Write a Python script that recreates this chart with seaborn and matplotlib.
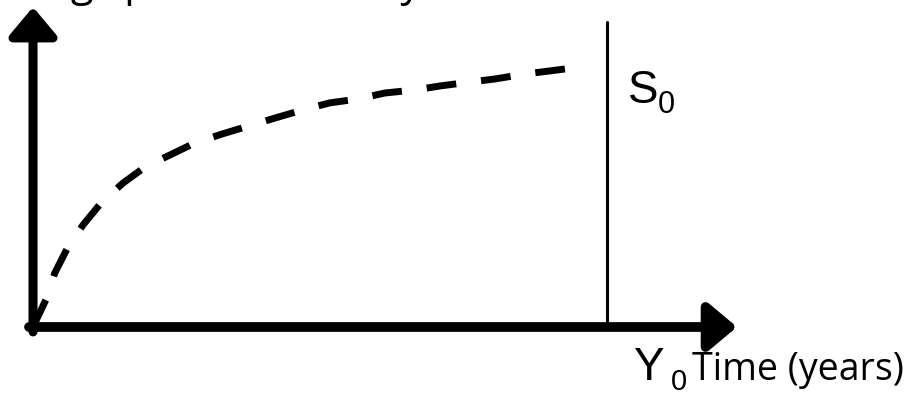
import matplotlib
matplotlib.use('Agg')
import matplotlib.pyplot as plt
import seaborn as sns
import pandas as pd

# curve: time as fraction of Y0, richness as fraction of S0
time_frac = [0.0, 0.024, 0.038, 0.061, 0.087, 0.120, 0.157, 0.195, 0.239, 0.282, 0.329,
             0.422, 0.470, 0.517, 0.566, 0.613, 0.666, 0.709, 0.761, 0.805, 0.857, 0.901, 0.953]
rich_frac = [0.0, 0.112, 0.208, 0.308, 0.392, 0.481, 0.554, 0.615, 0.662, 0.708, 0.742,
             0.804, 0.835, 0.862, 0.877, 0.900, 0.912, 0.927, 0.942, 0.954, 0.973, 0.985, 1.0]
y_label = 'Log species diversity'
x_label = 'Time (years)'
end_label = 'Y'
top_label = 'S'
sub = '0'

df = pd.DataFrame({'t': time_frac, 's': rich_frac})

sns.set_style('white')
fig = plt.figure(figsize=(9.09, 3.98), dpi=100)
ax = fig.add_axes([0, 0, 1, 1])
ax.set_xlim(-0.0575, 1.5261)
ax.set_ylim(-0.2731, 1.2577)
ax.axis('off')

sns.lineplot(data=df, x='t', y='s', ax=ax, color='black', lw=5.0,
             linestyle=(0, (4.3, 3.6)), dash_capstyle='butt', sort=False)

head = '-|>,head_length=0.86,head_width=0.72'
ax.annotate('', xy=(1.2265, 0), xytext=(-0.007, 0),
            arrowprops=dict(arrowstyle=head, mutation_scale=20, lw=7.0, color='black',
                            shrinkA=0, shrinkB=0))
ax.annotate('', xy=(0, 1.2308), xytext=(0, -0.019),
            arrowprops=dict(arrowstyle=head, mutation_scale=20, lw=6.5, color='black',
                            shrinkA=0, shrinkB=0))

# S0 marker line at Y0
ax.plot([1, 1], [0, 1.173], color='black', lw=2.2)

txt = dict(va='baseline', color='black')
ax.text(1.0366, 0.8615, top_label, fontsize=33, family='Liberation Sans', **txt)
ax.text(1.089, 0.823, sub, fontsize=22, family='Liberation Sans', **txt)
ax.text(1.046, -0.2054, end_label, fontsize=33, family='Liberation Sans', **txt)
ax.text(1.1105, -0.244, sub, fontsize=21, family='Liberation Sans', **txt)
ax.text(1.148, -0.2054, x_label, fontsize=27, family='Open Sans', **txt)
ax.text(-0.0157, 1.273, y_label, fontsize=30, family='Open Sans', **txt)

fig.savefig('out.png', dpi=100)
